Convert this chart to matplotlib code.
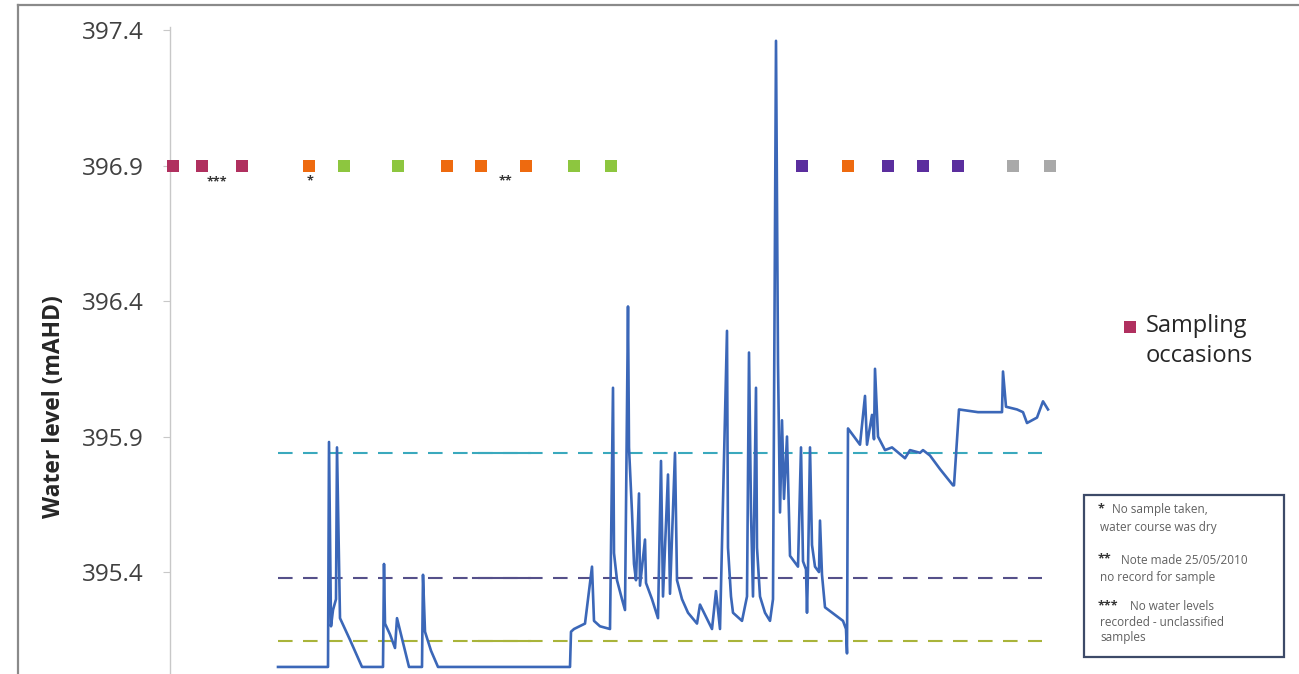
import matplotlib
matplotlib.use("Agg")
import matplotlib.pyplot as plt
from matplotlib.lines import Line2D
from matplotlib.patches import Rectangle

plt.rcParams['font.family'] = ['Open Sans', 'DejaVu Sans']

# --- datos (dias desde el inicio, nivel en mAHD) ---
wl_day = [108, 158, 159, 161, 163, 166, 167, 170, 180, 192,
          213, 214, 215, 220, 225, 227, 233, 239,
          252, 253, 255, 261, 268,
          400, 401, 404, 415, 422, 424, 430, 440,
          442, 443, 444, 447, 452, 455, 458, 459, 462, 464, 466, 469, 470,
          475, 476, 482, 488, 491, 493, 498, 500, 505, 507, 512, 518, 527,
          530, 542, 546, 550, 557, 558, 561, 563, 572, 577, 579, 581, 583,
          586, 587, 590, 595, 600, 603, 606, 608, 610, 612, 614, 617, 620,
          628, 631, 633, 636, 637, 638, 640, 642, 645, 649, 650, 652, 655,
          673, 676, 677, 678, 684, 690, 695, 697, 702, 704, 705, 708, 715,
          722, 735, 740, 750, 753, 760, 770, 783, 784, 789, 808, 832, 833,
          836, 847, 853, 857, 867, 873, 878]
wl_level = [395.05, 395.05, 395.88, 395.20, 395.26, 395.30, 395.86, 395.23,
            395.15, 395.05,
            395.05, 395.43, 395.21, 395.17, 395.12, 395.23, 395.14, 395.05,
            395.05, 395.39, 395.18, 395.11, 395.05,
            395.05, 395.18, 395.19, 395.21, 395.42, 395.22, 395.20, 395.19,
            395.79, 396.08, 395.47, 395.37, 395.30, 395.26, 396.38, 395.86,
            395.62, 395.43, 395.37, 395.69, 395.35,
            395.52, 395.36, 395.30, 395.23, 395.81, 395.31, 395.76, 395.32,
            395.84, 395.37, 395.30, 395.25, 395.21,
            395.28, 395.19, 395.33, 395.19, 396.29, 395.49, 395.31, 395.25,
            395.22, 395.31, 396.21, 395.62, 395.31,
            396.08, 395.49, 395.31, 395.25, 395.22, 395.30, 397.36, 396.17,
            395.62, 395.96, 395.67, 395.90, 395.46,
            395.42, 395.86, 395.44, 395.41, 395.25, 395.41, 395.86, 395.50,
            395.42, 395.40, 395.59, 395.39, 395.27,
            395.22, 395.19, 395.10, 395.93, 395.90, 395.87, 396.05, 395.87,
            395.98, 395.89, 396.15, 395.90, 395.85,
            395.86, 395.82, 395.85, 395.84, 395.85, 395.83, 395.78, 395.72,
            395.72, 396.00, 395.99, 395.99, 396.14,
            396.01, 396.00, 395.99, 395.95, 395.97, 396.03, 396.00]

sample_day = [3, 32, 72, 139, 174, 228, 277, 311, 356, 404, 441,
              632, 678, 718, 753, 788, 843, 880]
sample_class = ["U", "U", "U", "O", "G", "G", "O", "O", "O", "G", "G",
                "P", "O", "P", "P", "P", "N", "N"]
sample_level = 396.9

note_day = [47, 140, 335]
note_level = [396.84, 396.845, 396.845]
note_mark = ["***", "*", "**"]

threshold_level = [395.84, 395.38, 395.145]
threshold_class = ["cyan", "purple", "olive"]
threshold_start, threshold_end = 108, 872
threshold_solid = (303, 360)

y_ticks = [395.4, 395.9, 396.4, 396.9, 397.4]

notes = [("*", "No sample taken,"), ("", "water course was dry"),
         ("**", "Note made 25/05/2010"), ("", "no record for sample"),
         ("***", "No water levels"), ("", "recorded - unclassified"),
         ("", "samples")]

# Paleta
COL = {"U": "#b0305f", "O": "#ee6a0f", "G": "#8dc63f", "P": "#5b2e9e",
       "N": "#a9a9a9", "cyan": "#3aa9bd", "purple": "#55508a",
       "olive": "#a9b43a"}
LINE = "#3b67b8"

fig = plt.figure(figsize=(12.99, 6.74), dpi=100)
ax = fig.add_axes([170 / 1299, 0, 900 / 1299, 647 / 674])
ax.set_xlim(0, 900)
ax.set_ylim(395.024, 397.411)

# umbrales discontinuos
for lvl, cl in zip(threshold_level, threshold_class):
    ax.plot([threshold_start, threshold_end], [lvl, lvl], color=COL[cl],
            lw=1.5, dashes=(7, 5), zorder=1)
    ax.plot(threshold_solid, [lvl, lvl], color=COL[cl], lw=1.5, zorder=1)

# nivel de agua
ax.plot(wl_day, wl_level, color=LINE, lw=1.9, zorder=2,
        solid_joinstyle="round")

# ocasiones de muestreo
for d, c in zip(sample_day, sample_class):
    ax.plot([d], [sample_level], marker="s", markersize=8, color=COL[c],
            markeredgewidth=0, zorder=3, clip_on=False)
for d, lv, m in zip(note_day, note_level, note_mark):
    ax.text(d, lv, m, ha="center", va="center", fontsize=9,
            fontweight="bold", color="#333")

# ejes
for s in ("top", "right", "bottom"):
    ax.spines[s].set_visible(False)
ax.spines["left"].set_color("#c8c8c8")
ax.spines["left"].set_linewidth(1)
ax.set_xticks([])
ax.set_yticks(y_ticks)
ax.set_yticklabels([f"{t:.1f}" for t in y_ticks])
ax.tick_params(axis="y", length=5, color="#c8c8c8", pad=14,
               labelsize=17.5, labelcolor="#404040")
ax.set_ylabel("Water level (mAHD)", fontsize=16.5, fontweight="bold",
              color="#262626")
ax.yaxis.set_label_coords(-0.115, 0.414)

# leyenda
fig.add_artist(Line2D([1130 / 1299], [1 - 327 / 674], marker="s",
                      markersize=8, color=COL["U"], markeredgewidth=0,
                      transform=fig.transFigure))
fig.text(1146 / 1299, 1 - 326 / 674, "Sampling", fontsize=17,
         color="#262626", va="center", ha="left")
fig.text(1146 / 1299, 1 - 356 / 674, "occasions", fontsize=17,
         color="#262626", va="center", ha="left")

# cuadro de notas
fig.add_artist(Rectangle((1084 / 1299, 1 - 657 / 674), 200 / 1299,
                         162 / 674, transform=fig.transFigure, fill=False,
                         ec="#3d4a68", lw=1.6))
ys = [510, 528, 560, 577, 607, 622, 637]
for (star, txt), y in zip(notes, ys):
    x0 = 1100
    if star:
        fig.text(1098 / 1299, 1 - (y - 1) / 674, star, fontsize=9,
                 fontweight="bold", color="#333", va="center", ha="left")
        x0 = 1103 + 9 * len(star)
    fig.text(x0 / 1299, 1 - y / 674, txt, fontsize=8.5, color="#606060",
             va="center", ha="left")

# marco exterior
fig.add_artist(Line2D([18 / 1299, 1], [1 - 5 / 674, 1 - 5 / 674],
                      color="#8a8a8a", lw=1.6, transform=fig.transFigure))
fig.add_artist(Line2D([18 / 1299, 18 / 1299], [0, 1 - 5 / 674],
                      color="#8a8a8a", lw=1.6, transform=fig.transFigure))

fig.savefig("out.png", dpi=100, facecolor="white")
